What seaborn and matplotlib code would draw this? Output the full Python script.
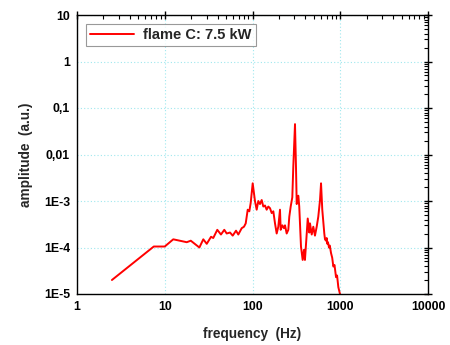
import matplotlib
matplotlib.use("Agg")
import matplotlib.pyplot as plt
import seaborn as sns
import pandas as pd
from matplotlib.ticker import FixedLocator, FixedFormatter, LogLocator, NullFormatter

freq = [2.5, 7.5, 10, 12.5, 17.8, 19.8, 24.8, 27.5, 30.1, 33.7, 35.7, 39.7, 43.7, 47.7,
        50.8, 55.4, 59.5, 64.9, 68.9, 75.3, 80, 83.7, 88.2, 92, 95.3, 100.5, 106.7,
        111.6, 116.5, 121.7, 127.3, 132.8, 138.8, 145, 151.4, 158.3, 165.5, 172.7,
        180.5, 188.6, 196.8, 205.7, 209.5, 218.6, 228.6, 234.6, 245.2, 255.9, 262.6,
        272.4, 284.2, 291.7, 305, 313, 319, 333, 341, 357, 373, 386, 396, 415, 426,
        444, 452, 473, 493, 515, 539, 562, 588, 604, 624, 658, 670, 688, 700, 712,
        725, 744, 760, 785, 810, 834, 860, 895, 920, 951, 993, 1010]
amp = [2.0e-5, 1.05e-4, 1.05e-4, 1.5e-4, 1.3e-4, 1.4e-4, 1.0e-4, 1.5e-4, 1.2e-4, 1.7e-4,
       1.6e-4, 2.4e-4, 1.9e-4, 2.4e-4, 2.0e-4, 2.1e-4, 1.8e-4, 2.3e-4, 1.9e-4, 2.6e-4,
       2.8e-4, 3.3e-4, 6.5e-4, 6.0e-4, 9.0e-4, 2.4e-3, 1.0e-3, 6.5e-4, 1.0e-3, 8.6e-4,
       1.05e-3, 7.6e-4, 8.0e-4, 6.5e-4, 7.6e-4, 7.0e-4, 5.5e-4, 6.0e-4, 3.3e-4, 2.0e-4,
       2.8e-4, 6.5e-4, 2.4e-4, 3.0e-4, 2.6e-4, 3.0e-4, 2.0e-4, 2.4e-4, 4.6e-4, 7.6e-4,
       1.2e-3, 5.5e-3, 0.045, 5.5e-3, 8.6e-4, 1.3e-3, 7.6e-4, 1.04e-4, 5.4e-5, 8.9e-5,
       5.4e-5, 2.0e-4, 4.2e-4, 2.1e-4, 3.3e-4, 1.9e-4, 2.8e-4, 1.8e-4, 2.8e-4, 4.6e-4,
       1.05e-3, 2.4e-3, 6.5e-4, 2.0e-4, 1.5e-4, 1.4e-4, 1.6e-4, 1.2e-4, 1.3e-4,
       1.0e-4, 1.1e-4, 7.6e-5, 6.0e-5, 3.9e-5, 4.2e-5, 2.3e-5, 2.5e-5, 1.4e-5, 1.0e-5,
       8e-6]

series_label = "flame C: 7.5 kW"
x_ticks = [1, 10, 100, 1000, 10000]
x_tick_labels = ["1", "10", "100", "1000", "10000"]
y_ticks = [1e-5, 1e-4, 1e-3, 1e-2, 1e-1, 1, 10]
y_tick_labels = ["1E-5", "1E-4", "1E-3", "0,01", "0,1", "1", "10"]

sns.set_style("white")
plt.rcParams['font.family'] = ['Liberation Sans', 'DejaVu Sans']
plt.rcParams['font.weight'] = 'bold'

fig = plt.figure(figsize=(4.5, 3.45), dpi=100)
ax = fig.add_axes([77/450, 1 - 294/345, 351/450, 279/345])

df = pd.DataFrame({"frequency": freq, "amplitude": amp})
sns.lineplot(data=df, x="frequency", y="amplitude", ax=ax, color="#ff0000",
             lw=1.4, estimator=None, sort=False, label=series_label)

ax.set_xscale("log")
ax.set_yscale("log")
ax.set_xlim(1, 10000)
ax.set_ylim(1e-5, 10)

ax.xaxis.set_major_locator(FixedLocator(x_ticks))
ax.xaxis.set_major_formatter(FixedFormatter(x_tick_labels))
ax.yaxis.set_major_locator(FixedLocator(y_ticks))
ax.yaxis.set_major_formatter(FixedFormatter(y_tick_labels))
ax.xaxis.set_minor_locator(LogLocator(base=10, subs=range(2, 10), numticks=20))
ax.yaxis.set_minor_locator(LogLocator(base=10, subs=range(2, 10), numticks=20))
ax.xaxis.set_minor_formatter(NullFormatter())
ax.yaxis.set_minor_formatter(NullFormatter())

ax.tick_params(which="major", direction="inout", length=6, width=1.0,
               top=True, right=True, labelsize=8.8, pad=2, colors="black")
ax.tick_params(which="minor", direction="in", length=3, width=0.8,
               top=True, right=True, colors="black")
for lab in ax.get_xticklabels() + ax.get_yticklabels():
    lab.set_fontweight("bold")

ax.grid(True, which="major", color="#9fe8ee", linestyle=(0, (1, 2)), lw=0.8)
for sp in ax.spines.values():
    sp.set_visible(True)
    sp.set_color("black")
    sp.set_linewidth(1.0)

ax.set_xlabel("frequency  (Hz)", fontsize=9.8, fontweight="bold", labelpad=10)
ax.set_ylabel("amplitude  (a.u.)", fontsize=9.8, fontweight="bold", labelpad=8)

leg = ax.legend(loc="upper left", bbox_to_anchor=(0.005, 0.995), frameon=True,
                fancybox=False, edgecolor="#808080",
                prop={"weight": "bold", "size": 10.5}, handlelength=3.0,
                borderpad=0.3, handletextpad=0.6)
leg.get_frame().set_linewidth(0.8)

fig.savefig("out.png", dpi=100, facecolor="white")
